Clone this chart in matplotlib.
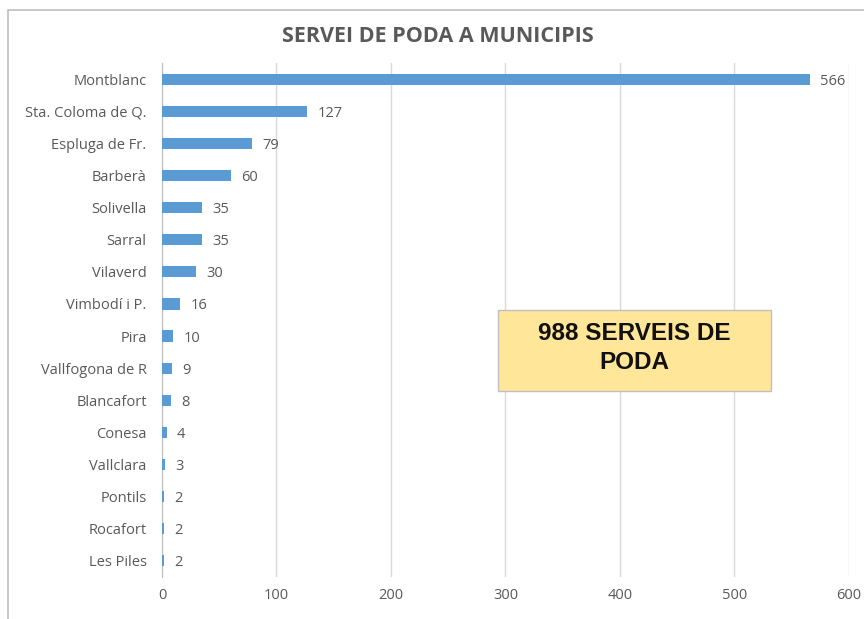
import matplotlib.pyplot as plt
from matplotlib.patches import Rectangle

# data
municipis = ["Montblanc", "Sta. Coloma de Q.", "Espluga de Fr.", "Barberà", "Solivella",
             "Sarral", "Vilaverd", "Vimbodí i P.", "Pira", "Vallfogona de R",
             "Blancafort", "Conesa", "Vallclara", "Pontils", "Rocafort", "Les Piles"]
serveis = [566, 127, 79, 60, 35, 35, 30, 16, 10, 9, 8, 4, 3, 2, 2, 2]
x_ticks = [0, 100, 200, 300, 400, 500, 600]

text_color = "#595959"
plt.rcParams['font.family'] = ['Open Sans', 'DejaVu Sans']

fig = plt.figure(figsize=(8.64, 6.19), dpi=100)
ax = fig.add_axes([0.1875, 0.068, 0.795, 0.83])

# outer chart frame (clipped at right/bottom like the screenshot)
fig.patches.append(Rectangle((8 / 864, -0.05), 1.0, 1 - 10 / 619 + 0.05,
                             transform=fig.transFigure, fill=False,
                             edgecolor="#BFBFBF", linewidth=1.2))

y = list(range(len(municipis)))
ax.barh(y, serveis, height=0.35, color="#5B9BD5", zorder=3)
for yi, v in zip(y, serveis):
    ax.text(v + 9, yi, str(v), va="center_baseline", ha="left", fontsize=10.5, color=text_color)

ax.set_ylim(len(municipis) - 0.5, -0.5)
ax.set_xlim(0, 600)
ax.set_yticks(y)
ax.set_yticklabels(municipis, fontsize=10.5, color=text_color, va="center_baseline")
ax.set_xticks(x_ticks)
ax.set_xticklabels([str(t) for t in x_ticks], fontsize=10.5, color=text_color)
ax.tick_params(axis="both", length=0)
ax.tick_params(axis="y", pad=11)
ax.tick_params(axis="x", pad=8)
ax.grid(axis="x", color="#D9D9D9", linewidth=1, zorder=0)
for s in ["top", "right", "bottom"]:
    ax.spines[s].set_visible(False)
ax.spines["left"].set_color("#BFBFBF")

fig.text(438 / 864, 1 - 37 / 619, "SERVEI DE PODA A MUNICIPIS", ha="center", va="center",
         fontsize=15.5, fontweight="bold", color=text_color)

# summary box
fig.patches.append(Rectangle((498 / 864, 1 - 391 / 619), 273 / 864, 81 / 619,
                             transform=fig.transFigure, facecolor="#FFE699",
                             edgecolor="#BFBFBF", linewidth=1, zorder=5))
fig.text(634 / 864, 1 - 348 / 619, "988 SERVEIS DE\nPODA", ha="center", va="center",
         fontsize=17.5, fontweight="bold", color="#111111", family="Liberation Sans",
         linespacing=1.3, zorder=6)

fig.savefig("out.png", dpi=100)
